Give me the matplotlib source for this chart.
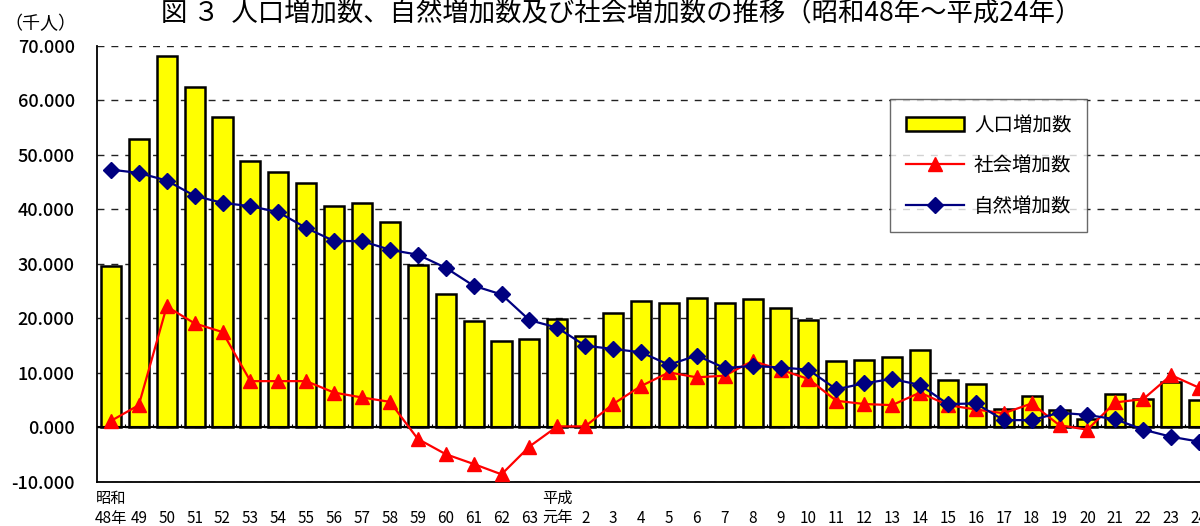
import matplotlib
matplotlib.use("Agg")
import matplotlib.pyplot as plt
import numpy as np

plt.rcParams['font.family'] = ['Noto Sans CJK JP', 'DejaVu Sans']

# 年次ラベル（昭和48年～平成24年）
years = ['48年', '49', '50', '51', '52', '53', '54', '55', '56', '57', '58',
         '59', '60', '61', '62', '63', '元年', '2', '3', '4', '5', '6', '7',
         '8', '9', '10', '11', '12', '13', '14', '15', '16', '17', '18', '19',
         '20', '21', '22', '23', '24']
era_labels = {0: '昭和', 16: '平成'}

# 人口増加数（千人）
population = [29.6, 53.0, 68.2, 62.5, 57.0, 48.8, 46.9, 44.9, 40.6, 41.1,
              37.7, 29.8, 24.5, 19.6, 15.9, 16.2, 19.9, 16.7, 21.0, 23.2,
              22.9, 23.7, 22.9, 23.6, 22.0, 19.7, 12.2, 12.4, 13.0, 14.3,
              8.7, 7.9, 3.4, 5.8, 3.2, 1.5, 6.1, 5.2, 8.3, 5.0]
# 社会増加数（千人）
social = [1.2, 4.1, 22.2, 19.1, 17.5, 8.5, 8.5, 8.5, 6.4, 5.5,
          4.7, -2.1, -4.9, -6.7, -8.6, -3.5, 0.2, 0.2, 4.3, 7.6,
          10.1, 9.2, 9.5, 12.2, 10.6, 8.9, 4.9, 4.3, 4.1, 6.4,
          4.1, 3.3, 2.6, 4.4, 0.4, -0.4, 4.6, 5.2, 9.6, 7.3]
# 自然増加数（千人）
natural = [47.3, 46.7, 45.3, 42.5, 41.2, 40.6, 39.5, 36.6, 34.2, 34.2,
           32.6, 31.7, 29.3, 26.0, 24.4, 19.7, 18.3, 15.0, 14.4, 13.8,
           11.5, 13.2, 10.9, 11.3, 11.0, 10.6, 7.0, 8.1, 8.9, 7.8,
           4.3, 4.4, 1.35, 1.35, 2.7, 2.3, 1.5, -0.4, -1.7, -2.6]

x = np.arange(len(years))

fig = plt.figure(figsize=(12, 5.26), dpi=100)
ax = fig.add_axes([0.0808, 0.0837, 0.93, 0.829])

bars = ax.bar(x, population, width=0.72, color='#FFFF00', edgecolor='black',
              linewidth=1.8, label='人口増加数', zorder=2)
l_soc, = ax.plot(x, social, color='#FF0000', linewidth=1.6, marker='^',
                 markersize=10, label='社会増加数', zorder=4)
l_nat, = ax.plot(x, natural, color='#000080', linewidth=1.6, marker='D',
                 markersize=8, label='自然増加数', zorder=5)

# zero line with small category ticks
ax.axhline(0, color='black', linewidth=1.5, zorder=3)
ax.vlines(x[:-1] + 0.5, 0, 0.6, color='black', linewidth=0.8, zorder=3)

ax.set_xlim(-0.5, len(years) - 0.5)
ax.set_ylim(-10, 70)
yt = np.arange(-10, 71, 10)
ax.set_yticks(yt)
ax.set_yticklabels([f'{v:.3f}' for v in yt], fontsize=13, fontweight='medium')
ax.tick_params(axis='y', length=0, pad=16)
ax.yaxis.grid(True, linestyle=(0, (5, 5)), color='#222222', linewidth=1.0,
              zorder=0)
ax.set_axisbelow(True)

ax.set_xticks(x)
ax.set_xticklabels([])
ax.tick_params(axis='x', length=0)
for i, lab in enumerate(years):
    ax.text(i, -0.083, lab, transform=ax.get_xaxis_transform(),
            ha='center', va='center', fontsize=11)
for i, lab in era_labels.items():
    ax.text(i, -0.037, lab, transform=ax.get_xaxis_transform(),
            ha='center', va='center', fontsize=11)

ax.spines['top'].set_visible(False)
ax.spines['right'].set_visible(False)
ax.spines['left'].set_linewidth(1.3)
ax.spines['bottom'].set_linewidth(1.3)

leg = ax.legend([bars, l_soc, l_nat], ['人口増加数', '社会増加数', '自然増加数'],
                loc='upper left', bbox_to_anchor=(0.711, 0.878), fontsize=14,
                frameon=True, fancybox=False, borderpad=0.8,
                labelspacing=1.0, handlelength=3.0, handletextpad=0.5,
                borderaxespad=0)
leg.get_frame().set_edgecolor('#444444')
leg.get_frame().set_linewidth(1.0)

fig.text(0.518, 0.974, '図 ３  人口増加数、自然増加数及び社会増加数の推移（昭和48年～平成24年）',
         ha='center', va='center', fontsize=19)
fig.text(0.004, 0.955, '（千人）', ha='left', va='center', fontsize=13)

fig.savefig('out.png', dpi=100)
